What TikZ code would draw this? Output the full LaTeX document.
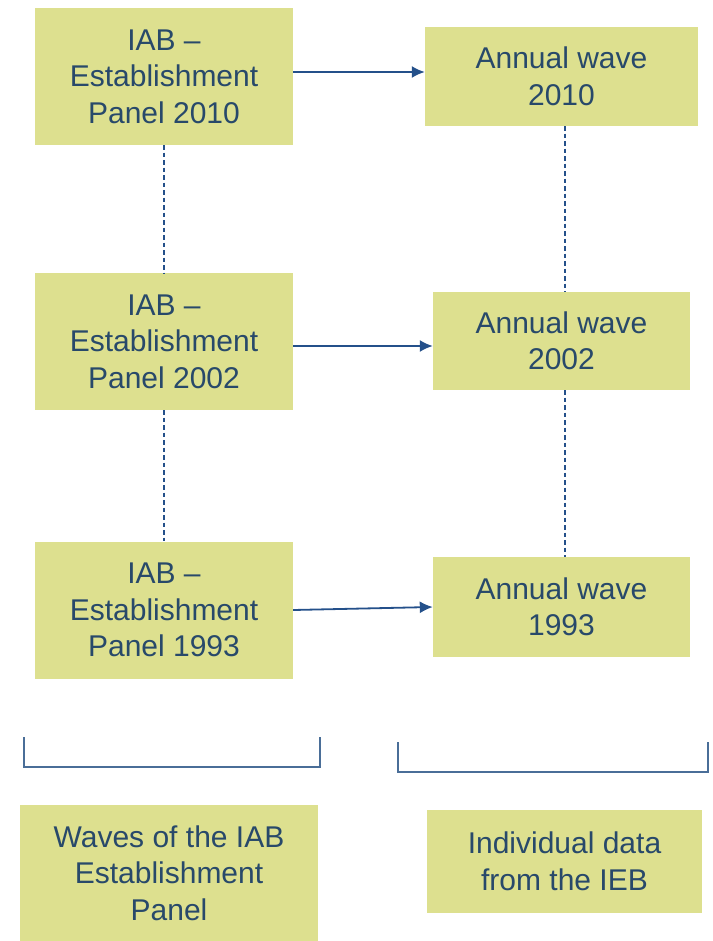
\documentclass[tikz,border=0pt]{standalone}
\usepackage{xcolor}
\usepackage{fontspec}
\setmainfont{Liberation Sans}
\usetikzlibrary{arrows.meta, positioning}
\definecolor{boxfill}{HTML}{DDE08F}
\definecolor{boxtext}{HTML}{28496A}
\definecolor{linkblue}{HTML}{24508A}
\definecolor{bracketblue}{HTML}{4A6E98}
\tikzstyle{block} = [rectangle, fill=boxfill, text=boxtext, align=center, inner sep=0pt, font=\fontsize{30}{36.5}\selectfont]
\tikzstyle{arrow} = [line width=1.8pt, draw=linkblue, -{Latex[length=13pt, width=12pt]}]
\tikzstyle{dotline} = [line width=1.3pt, draw=linkblue, dash pattern=on 4.5pt off 3pt]
\tikzstyle{bracket} = [line width=1.8pt, draw=bracketblue]

\begin{document}
\begin{tikzpicture}[x=1pt, y=-1pt]
    \useasboundingbox (0,0) rectangle (712,941);
    % establishment panel waves
    \node (p1) [block, minimum width=258, minimum height=137] at (164,76.5) {IAB --\\Establishment\\Panel 2010};
    \node (p2) [block, minimum width=258, minimum height=137] at (164,341.5) {IAB --\\Establishment\\Panel 2002};
    \node (p3) [block, minimum width=258, minimum height=137] at (164,610) {IAB --\\Establishment\\Panel 1993};
    % annual waves
    \node (w1) [block, minimum width=273, minimum height=99] at (561.5,76.5) {Annual wave\\2010};
    \node (w2) [block, minimum width=257, minimum height=98] at (561.5,341) {Annual wave\\2002};
    \node (w3) [block, minimum width=257, minimum height=100] at (561.5,607) {Annual wave\\1993};
    % summary boxes
    \node (s1) [block, minimum width=298, minimum height=136] at (169,873) {Waves of the IAB\\Establishment\\Panel};
    \node (s2) [block, minimum width=275, minimum height=103] at (564.5,861.5) {Individual data\\from the IEB};

    \draw [arrow] ([yshift=4.5]p1.east) -- ([yshift=4.5]w1.west);
    \draw [arrow] ([yshift=-4.5]p2.east) -- ([yshift=-5]w2.west);
    \draw [arrow] (p3.east) -- (w3.west);

    \draw [dotline] (p1.south) -- (p2.north);
    \draw [dotline] (p2.south) -- (p3.north);
    \draw [dotline] ([xshift=3.5]w1.south) -- ([xshift=3.5]w2.north);
    \draw [dotline] ([xshift=3.5]w2.south) -- ([xshift=3.5]w3.north);

    % brackets
    \draw [bracket] (24,737) -- (24,767) -- (320,767) -- (320,737);
    \draw [bracket] (398,742) -- (398,772) -- (708,772) -- (708,742);
\end{tikzpicture}
\end{document}
